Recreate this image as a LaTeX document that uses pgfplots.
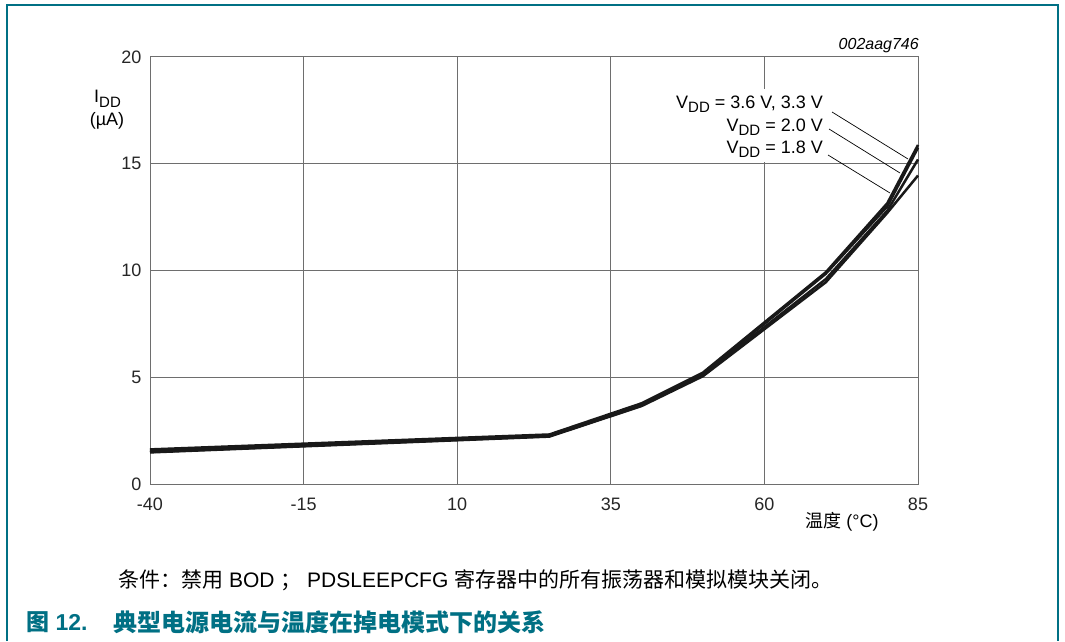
\documentclass[border=0pt]{standalone}
\usepackage{fontspec}
\setmainfont{Liberation Sans}
\newfontfamily\cjk{Noto Sans CJK SC}
\usepackage{pgfplots}
\pgfplotsset{compat=1.18}
\definecolor{teal}{RGB}{0,112,132}
\definecolor{gridgray}{RGB}{110,110,110}
\newcommand{\sub}[1]{\raisebox{-4.5pt}{\fontsize{15}{15}\selectfont #1}}
\begin{document}
\begin{tikzpicture}[x=1pt,y=1pt]
\path[use as bounding box] (0,0) rectangle (1065,641);
\fill[white] (0,0) rectangle (1065,641);
\begin{axis}[
  at={(150pt,157pt)}, anchor=south west,
  scale only axis, width=768pt, height=427pt,
  xmin=-40, xmax=85, ymin=0, ymax=20,
  xtick={-40,-15,10,35,60,85},
  xticklabels={-40,-15,10,35,60,85},
  ytick={0,5,10,15,20},
  yticklabels={0,5,10,15,20},
  major tick length=0pt,
  grid=major,
  major grid style={gridgray, line width=1pt},
  axis line style={gridgray, line width=1pt},
  tick label style={font=\fontsize{18}{20}\selectfont, text=black!85},
  xticklabel style={yshift=-10pt, text height=13pt},
  yticklabel style={xshift=-5pt},
  clip=false,
]
\addplot[black!90, line width=2.5pt] coordinates {(-40,1.62) (25,2.32) (40,3.78) (50,5.22) (70,9.92) (80,13.15) (85,15.88)};
\addplot[black!90, line width=2.5pt] coordinates {(-40,1.56) (25,2.28) (40,3.72) (50,5.15) (70,9.85) (80,13.0) (85,15.75)};
\addplot[black!90, line width=2.5pt] coordinates {(-40,1.5) (25,2.24) (40,3.68) (50,5.1) (70,9.6) (80,12.8) (85,15.2)};
\addplot[black!90, line width=2.5pt] coordinates {(-40,1.48) (25,2.22) (40,3.65) (50,5.05) (70,9.45) (80,12.7) (85,14.45)};
\end{axis}
% label box
\fill[white] (706,552) rectangle (822,479);
\node[anchor=east, inner sep=0pt, font=\fontsize{18}{20}\selectfont] at (823,537) {V\sub{DD} = 3.6 V, 3.3 V};
\node[anchor=east, inner sep=0pt, font=\fontsize{18}{20}\selectfont] at (823,514) {V\sub{DD} = 2.0 V};
\node[anchor=east, inner sep=0pt, font=\fontsize{18}{20}\selectfont] at (823,492) {V\sub{DD} = 1.8 V};
\draw[black, line width=0.7pt] (832,529) -- (908,482);
\draw[black, line width=0.7pt] (829,512) -- (900,468);
\draw[black, line width=0.7pt] (828,486) -- (890,448);
% annotations
\node[anchor=east, inner sep=0pt, font=\fontsize{16}{18}\selectfont\itshape] at (919,595) {002aag746};
\node[anchor=west, inner sep=0pt, font=\fontsize{18}{20}\selectfont] at (94,542) {I\sub{DD}};
\node[anchor=center, inner sep=0pt, font=\fontsize{18}{20}\selectfont] at (107,520) {(µA)};
\node[anchor=center, inner sep=0pt, font=\fontsize{18}{20}\selectfont] at (842,119) {{\cjk 温度} (°C)};
\node[anchor=west, inner sep=0pt, font=\fontsize{21}{23}\selectfont] at (118,61) {{\cjk 条件：禁用} BOD {\cjk ；} PDSLEEPCFG {\cjk 寄存器中的所有振荡器和模拟模块关闭。}};
\node[anchor=west, inner sep=0pt, font=\fontsize{23}{25}\selectfont\bfseries, text=teal] at (26,19) {{\cjk\bfseries 图} 12.};
\node[anchor=west, inner sep=0pt, font=\fontsize{24}{26}\selectfont\bfseries, text=teal] at (113,19) {\cjk\bfseries 典型电源电流与温度在掉电模式下的关系};
% frame
\draw[teal, line width=1.6pt] (7,0) -- (7,636) -- (1058,636) -- (1058,0);
\end{tikzpicture}
\end{document}
